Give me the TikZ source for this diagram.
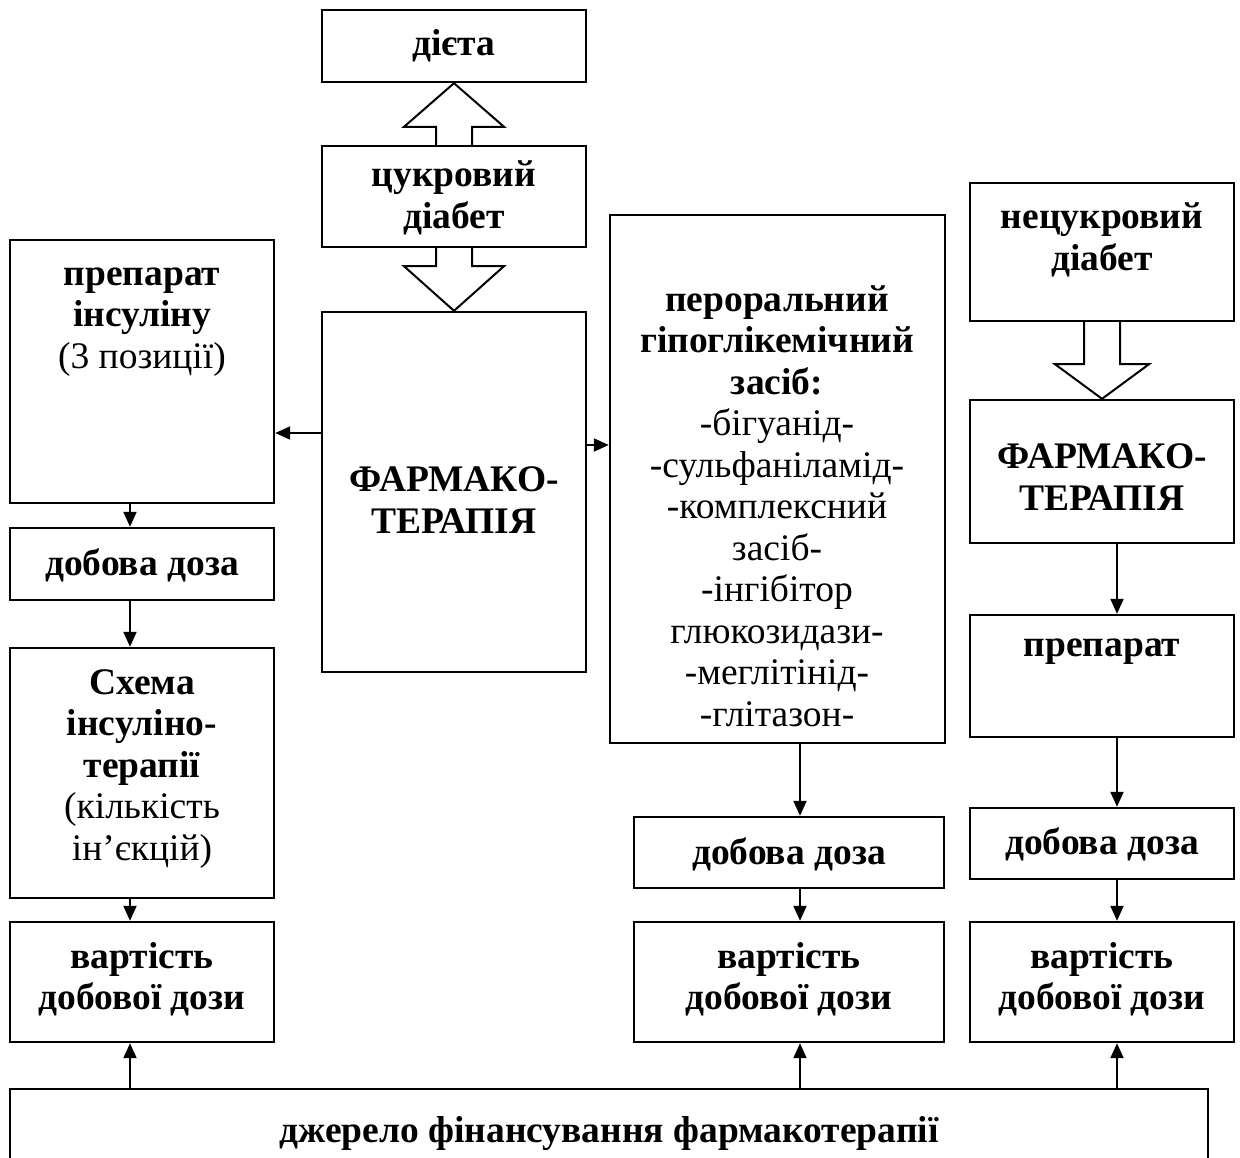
\documentclass[tikz,border=0pt]{standalone}
\usepackage{fontspec}
\setmainfont{Liberation Serif}
\usetikzlibrary{arrows.meta,calc}
\tikzset{
  box/.style={draw, line width=2.4pt, rectangle, inner sep=0pt},
  txt/.style={inner sep=0pt, align=center, font=\fontsize{37.5}{41.5}\selectfont},
  conn/.style={line width=2pt, -{Triangle[length=15pt,width=13pt]}},
  blockarrow/.style={draw, line width=2pt, fill=white, line join=miter}
}
\begin{document}
\begin{tikzpicture}[x=1pt,y=-1pt]
\useasboundingbox (0,0) rectangle (1240,1157);
% boxes
\node[box, minimum width=264, minimum height=72]  (dieta)  at (454,46) {};
\node[box, minimum width=264, minimum height=101] (tsd)    at (454,196.5) {};
\node[box, minimum width=264, minimum height=360] (farm)   at (454,492) {};
\node[box, minimum width=264, minimum height=263] (prep)   at (142,371.5) {};
\node[box, minimum width=264, minimum height=72]  (dobL)   at (142,564) {};
\node[box, minimum width=264, minimum height=250] (schema) at (142,773) {};
\node[box, minimum width=264, minimum height=120] (vartL)  at (142,982) {};
\node[box, minimum width=335, minimum height=528] (peror)  at (777.5,479) {};
\node[box, minimum width=310, minimum height=71]  (dobM)   at (789,852.5) {};
\node[box, minimum width=310, minimum height=120] (vartM)  at (789,982) {};
\node[box, minimum width=264, minimum height=138] (netsd)  at (1102,252) {};
\node[box, minimum width=264, minimum height=143] (farmR)  at (1102,471.5) {};
\node[box, minimum width=264, minimum height=122] (prepR)  at (1102,676) {};
\node[box, minimum width=264, minimum height=71]  (dobR)   at (1102,843.5) {};
\node[box, minimum width=264, minimum height=120] (vartR)  at (1102,982) {};
\node[box, minimum width=1198, minimum height=110] (dzh)   at (609,1144) {};
% texts
\node[txt] (tdieta)  at (454,46)  {\textbf{дієта}};
\node[txt] (ttsd)    at (454,198) {\textbf{цукровий}\\\textbf{діабет}};
\node[txt] (tprep)   at (142,322) {\textbf{препарат}\\\textbf{інсуліну}\\(3 позиції)};
\node[txt] (tfarm)   at (454,500) {\textbf{ФАРМАКО-}\\\textbf{ТЕРАПІЯ}};
\node[txt] (tdobL)   at (142,565) {\textbf{добова доза}};
\node[txt] (tschema) at (142,769) {\textbf{Схема}\\\textbf{інсуліно-}\\\textbf{терапії}\\(кількість\\ін’єкцій)};
\node[txt] (tvartL)  at (142,979) {\textbf{вартість}\\\textbf{добової дози}};
\node[txt] (tperor)  at (777,506) {\textbf{пероральний}\\\textbf{гіпоглікемічний}\\\textbf{засіб:}\\-бігуанід-\\-сульфаніламід-\\-комплексний\\засіб-\\-інгібітор\\глюкозидази-\\-меглітінід-\\-глітазон-};
\node[txt] (tdobM)   at (789,854) {\textbf{добова доза}};
\node[txt] (tvartM)  at (789,979) {\textbf{вартість}\\\textbf{добової дози}};
\node[txt] (tnetsd)  at (1102,240) {\textbf{нецукровий}\\\textbf{діабет}};
\node[txt] (tfarmR)  at (1102,477) {\textbf{ФАРМАКО-}\\\textbf{ТЕРАПІЯ}};
\node[txt] (tprepR)  at (1102,652) {\textbf{препарат}};
\node[txt] (tdobR)   at (1102,844) {\textbf{добова доза}};
\node[txt] (tvartR)  at (1102,979) {\textbf{вартість}\\\textbf{добової дози}};
\node[txt] (tdzh)    at (609,1134) {\textbf{джерело фінансування фармакотерапії}};
% block arrows
\draw[blockarrow] ($(tsd.north)+(-18,0)$) -- ++(0,-18) -- ++(-32,0) -- (dieta.south) -- ($(tsd.north)+(50,-18)$) -- ++(-32,0) -- ++(0,18);
\draw[blockarrow] ($(tsd.south)+(-18,0)$) -- ++(0,18) -- ++(-32,0) -- (farm.north) -- ($(tsd.south)+(50,18)$) -- ++(-32,0) -- ++(0,-18);
\draw[blockarrow] ($(netsd.south)+(-18,0)$) -- ++(0,42) -- ++(-29,0) -- (farmR.north) -- ($(netsd.south)+(47,42)$) -- ++(-29,0) -- ++(0,-42);
% connectors
\draw[conn] (farm.west |- 0,433) -- (prep.east |- 0,433);
\draw[conn] (farm.east |- 0,445) -- (peror.west |- 0,445);
\draw[conn] (prep.south -| 130,0) -- (dobL.north -| 130,0);
\draw[conn] (dobL.south -| 130,0) -- (schema.north -| 130,0);
\draw[conn] (schema.south -| 130,0) -- (vartL.north -| 130,0);
\draw[conn] (peror.south -| 800,0) -- (dobM.north -| 800,0);
\draw[conn] (dobM.south -| 800,0) -- (vartM.north -| 800,0);
\draw[conn] (farmR.south -| 1117,0) -- (prepR.north -| 1117,0);
\draw[conn] (prepR.south -| 1117,0) -- (dobR.north -| 1117,0);
\draw[conn] (dobR.south -| 1117,0) -- (vartR.north -| 1117,0);
\draw[conn] (dzh.north -| 130,0) -- (vartL.south -| 130,0);
\draw[conn] (dzh.north -| 800,0) -- (vartM.south -| 800,0);
\draw[conn] (dzh.north -| 1117,0) -- (vartR.south -| 1117,0);
\end{tikzpicture}
\end{document}
